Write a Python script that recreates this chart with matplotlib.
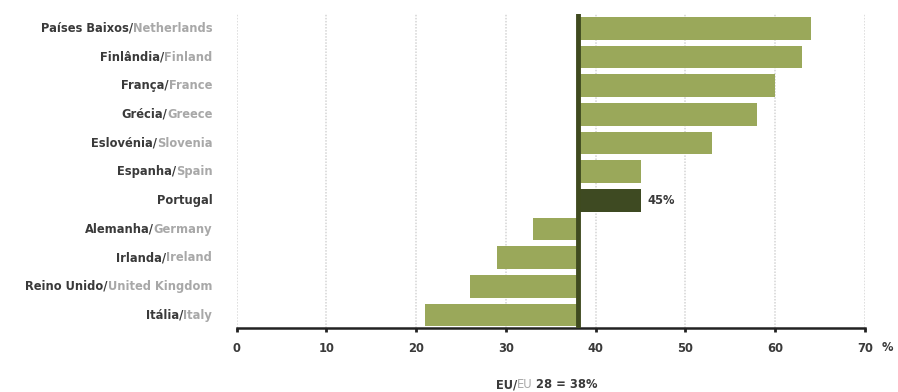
import matplotlib.pyplot as plt
import numpy as np

# countries bottom -> top
pt_names = ["Itália", "Reino Unido", "Irlanda", "Alemanha", "Portugal",
            "Espanha", "Eslovénia", "Grécia", "França", "Finlândia", "Países Baixos"]
en_names = ["Italy", "United Kingdom", "Ireland", "Germany", "",
            "Spain", "Slovenia", "Greece", "France", "Finland", "Netherlands"]
values = [21, 26, 29, 33, 45, 45, 53, 58, 60, 63, 64]
eu_avg = 38
xticks = [0, 10, 20, 30, 40, 50, 60, 70]

light = "#9aa85a"
dark = "#3e4a22"
txt_dark = "#3a3a3a"
txt_gray = "#a8a8a8"
fs = 8.3

fig = plt.figure(figsize=(8.98, 3.92), dpi=100)
ax = fig.add_axes([0.2634, 0.1633, 0.6999, 0.801])

y = np.arange(len(values))
colors = [dark if n == "Portugal" else light for n in pt_names]
widths = [v - eu_avg for v in values]
ax.barh(y, widths, left=eu_avg, height=0.79, color=colors, zorder=2)

ax.axvline(eu_avg, color="#3f4a1f", lw=3.5, zorder=3)
for t in xticks:
    ax.axvline(t, color="#d4d4d4", lw=1.1, ls=(0, (1, 1)), zorder=1)

ax.set_xlim(0, 70)
ax.set_ylim(-0.45, 10.5)
for s in ["top", "right", "left"]:
    ax.spines[s].set_visible(False)
ax.spines["bottom"].set_linewidth(1.8)
ax.spines["bottom"].set_color("#222222")
ax.set_yticks([])
ax.set_xticks(xticks)
ax.set_xticklabels([str(t) for t in xticks], fontsize=fs, fontweight="bold", color=txt_dark)
ax.tick_params(axis="x", length=3, width=2, color="#222222", pad=7)

# two-colour category labels
for yi, pt, en in zip(y, pt_names, en_names):
    if en:
        t_en = ax.text(-2.7, yi, en, ha="right", va="center", fontsize=fs,
                       fontweight="bold", color=txt_gray)
        ax.annotate(pt + "/", xy=(0, 0), xycoords=t_en, ha="right", va="bottom",
                    fontsize=fs, fontweight="bold", color=txt_dark)
    else:
        ax.text(-2.7, yi, pt, ha="right", va="center", fontsize=fs,
                fontweight="bold", color=txt_dark)

port_i = pt_names.index("Portugal")
ax.text(values[port_i] + 0.8, port_i, "45%", va="center", ha="left",
        fontsize=fs, fontweight="bold", color=txt_dark)

fig.text(0.9885, 0.113, "%", fontsize=fs, fontweight="bold", color=txt_dark, ha="center", va="center")

# footnote EU/EU 28 = 38%
fig.text(0.576, 0.018, "EU/", fontsize=fs, fontweight="bold", color=txt_dark, ha="right", va="center")
fig.text(0.576, 0.018, "EU", fontsize=fs, color=txt_gray, ha="left", va="center")
fig.text(0.576 + 19 / 898, 0.018, "28 = 38%", fontsize=fs, fontweight="bold",
         color=txt_dark, ha="left", va="center")

fig.savefig("out.png", dpi=100)
